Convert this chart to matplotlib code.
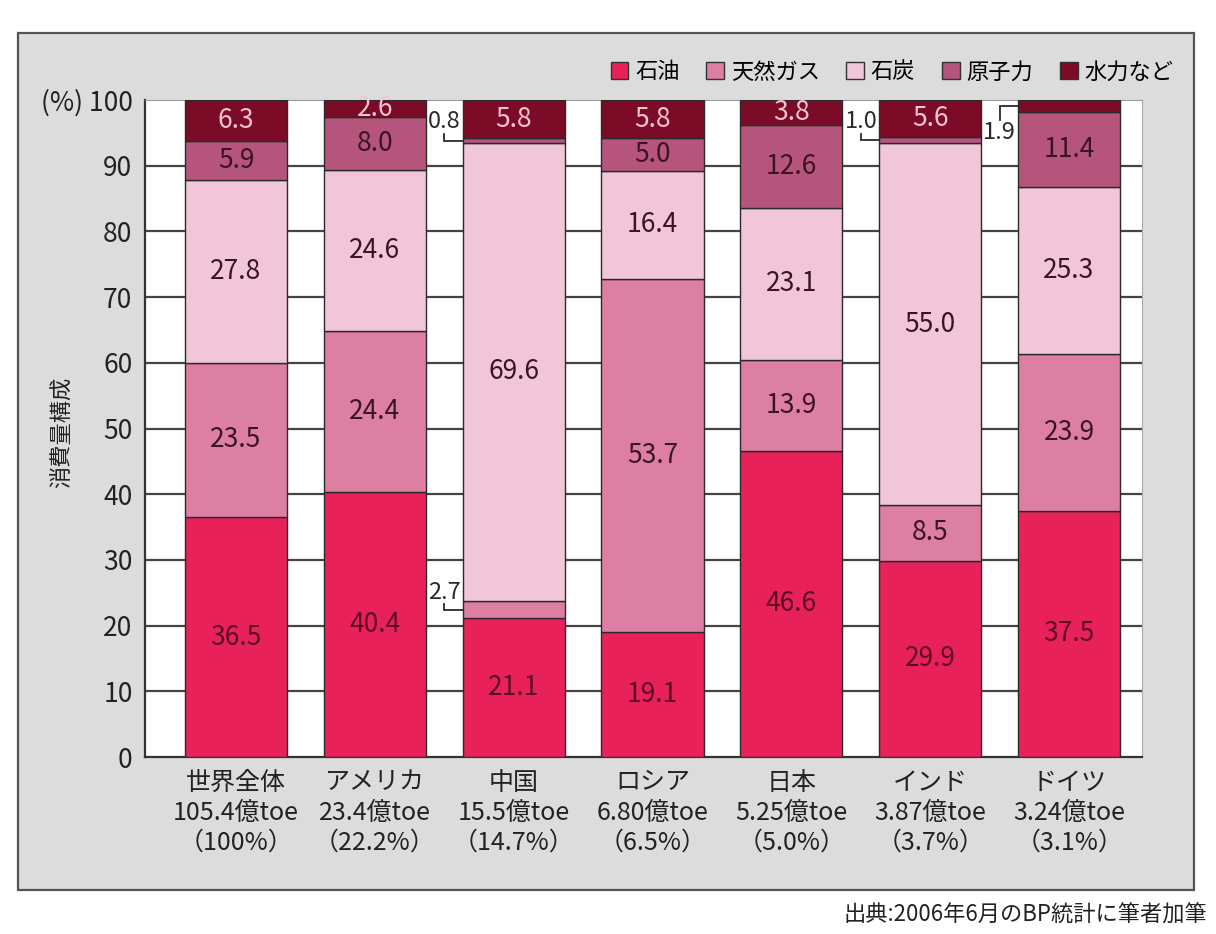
import matplotlib.pyplot as plt
from matplotlib.patches import Rectangle, Patch

plt.rcParams['font.family'] = ['Noto Sans CJK JP', 'DejaVu Sans']

# energy consumption mix (%) per country
countries = ['世界全体', 'アメリカ', '中国', 'ロシア', '日本', 'インド', 'ドイツ']
totals = ['105.4億toe', '23.4億toe', '15.5億toe', '6.80億toe', '5.25億toe', '3.87億toe', '3.24億toe']
shares = ['100%', '22.2%', '14.7%', '6.5%', '5.0%', '3.7%', '3.1%']

fuels = ['石油', '天然ガス', '石炭', '原子力', '水力など']
oil = [36.5, 40.4, 21.1, 19.1, 46.6, 29.9, 37.5]
gas = [23.5, 24.4, 2.7, 53.7, 13.9, 8.5, 23.9]
coal = [27.8, 24.6, 69.6, 16.4, 23.1, 55.0, 25.3]
nuclear = [5.9, 8.0, 0.8, 5.0, 12.6, 1.0, 11.4]
hydro = [6.3, 2.6, 5.8, 5.8, 3.8, 5.6, 1.9]
series = [oil, gas, coal, nuclear, hydro]

colors = ['#e8215a', '#dd7ea3', '#f0c6d8', '#b5557b', '#7b0b26']
text_colors = ['#5c0a22', '#3a1424', '#3a1424', '#3a1424', '#f6c3d3']

# segments too thin for an inside label: (country, fuel) -> label y, leader start y
outside = {(2, 3): (96.8, 94.9), (2, 1): (25.0, 23.3), (5, 3): (96.8, 94.9), (6, 4): (95.0, 96.9)}

fig = plt.figure(figsize=(12.16, 9.34), dpi=100)
fig.patch.set_facecolor('white')
fig.patches.append(Rectangle((0.015, 0.047), 0.967, 0.918, transform=fig.transFigure,
                             facecolor='#dcdcdc', edgecolor='#555555', lw=1.6, zorder=-5))

ax = fig.add_axes([145 / 1216, 1 - 757 / 934, (1142 - 145) / 1216, (757 - 100) / 934])
ax.set_zorder(2)
ax.set_facecolor('white')

width = 0.735
x = list(range(len(countries)))
bottom = [0.0] * len(countries)
for k, vals in enumerate(series):
    ax.bar(x, vals, width, bottom=bottom, color=colors[k], edgecolor='#2a2a2a',
           linewidth=1.0, zorder=3)
    for i, v in enumerate(vals):
        mid = bottom[i] + v / 2
        if (i, k) in outside:
            ty, ly = outside[(i, k)]
            gx = i - 0.5
            ax.text(gx, ty, f'{v:.1f}', ha='center', va='center', fontsize=17,
                    color='#2a2a2a', zorder=5)
            ax.plot([gx, gx, i - width / 2], [ly, mid, mid], color='#2a2a2a', lw=1.3,
                    zorder=4, solid_joinstyle='miter')
        else:
            ax.text(i, mid, f'{v:.1f}', ha='center', va='center', fontsize=19,
                    color=text_colors[k], zorder=5)
    bottom = [b + v for b, v in zip(bottom, vals)]

ax.set_xlim(-0.655, 6.525)
ax.set_ylim(0, 100)
ax.set_yticks(range(0, 101, 10))
ax.set_yticklabels([str(t) for t in range(0, 100, 10)] + ['(%) 100'], fontsize=19, color='#222222')
ax.set_xticks(x)
ax.set_xticklabels([f'{c}\n{t}\n（{s}）' for c, t, s in zip(countries, totals, shares)],
                   fontsize=18, color='#222222', linespacing=1.2)
ax.tick_params(length=0, pad=9)
for y in range(10, 100, 10):
    ax.axhline(y, color='#444444', lw=1.6, zorder=1)

ax.spines['left'].set_color('#333333')
ax.spines['left'].set_linewidth(1.6)
ax.spines['bottom'].set_color('#333333')
ax.spines['bottom'].set_linewidth(1.6)
ax.spines['top'].set_color('#999999')
ax.spines['right'].set_color('#aaaaaa')

fig.text(62 / 1216, 1 - 432 / 934, '消費量構成', rotation=90, ha='center', va='center',
         fontsize=16, color='#222222')

handles = [Patch(facecolor=c, edgecolor='#333333', lw=1.0) for c in colors]
fig.legend(handles, fuels, loc='center', bbox_to_anchor=(892 / 1216, 1 - 72 / 934),
           ncol=5, frameon=False, fontsize=16, handlelength=0.8, handleheight=0.8,
           handletextpad=0.3, columnspacing=1.2)

fig.text(0.993, 1 - 915 / 934, '出典:2006年6月のBP統計に筆者加筆', ha='right', va='center',
         fontsize=16, color='#222222')

fig.savefig('out.png', dpi=100)
